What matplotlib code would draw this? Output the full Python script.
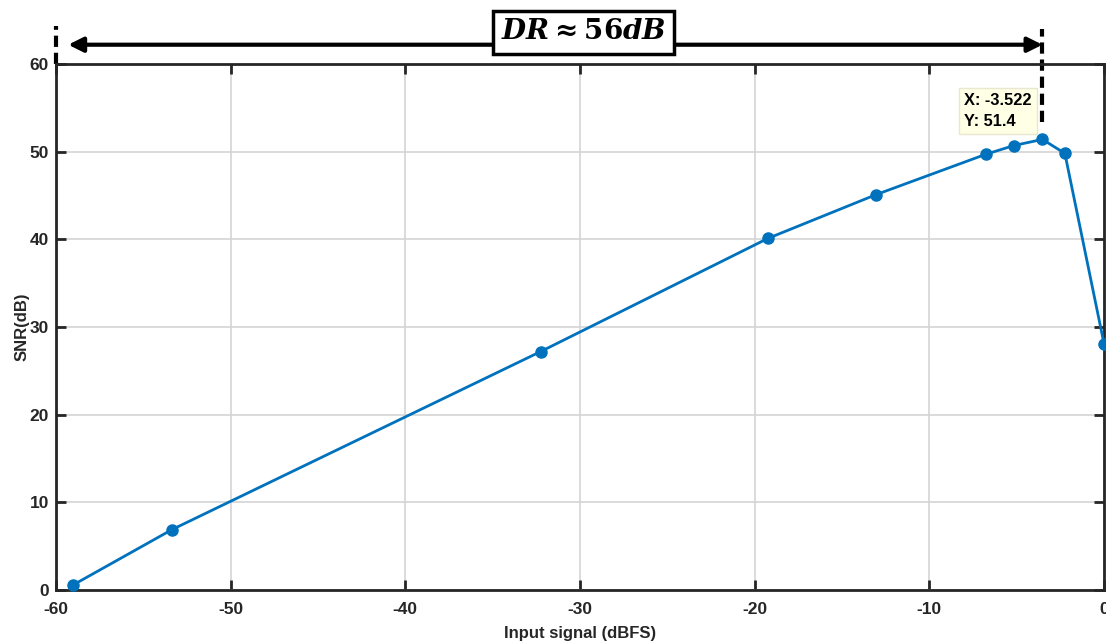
import matplotlib
matplotlib.use("Agg")
import matplotlib.pyplot as plt

# data
input_dbfs = [-59.0, -53.35, -32.25, -19.25, -13.05, -6.77, -5.16, -3.522, -2.24, 0.0]
snr_db = [0.6, 6.9, 27.2, 40.1, 45.1, 49.7, 50.7, 51.4, 49.8, 28.1]
x_ticks = [-60, -50, -40, -30, -20, -10, 0]
y_ticks = [0, 10, 20, 30, 40, 50, 60]
tip_x = -3.522
tip_y = 51.4
dr_left = -59.3

plt.rcParams['font.family'] = ['Liberation Sans', 'DejaVu Sans']
plt.rcParams['axes.unicode_minus'] = False
plt.rcParams['mathtext.fontset'] = 'custom'
plt.rcParams['mathtext.it'] = 'DejaVu Serif:italic:bold'
plt.rcParams['mathtext.rm'] = 'DejaVu Serif:bold'
plt.rcParams['mathtext.bf'] = 'DejaVu Serif:bold'

fig = plt.figure(figsize=(11.06, 6.43), dpi=100)
ax = fig.add_axes([56/1106, 53/643, 1048/1106, 526/643])

blue = '#0072BD'
ax.plot(input_dbfs, snr_db, '-o', color=blue, lw=2, ms=8, clip_on=False, zorder=5)

ax.set_xlim(-60, 0)
ax.set_ylim(0, 60)
ax.set_xticks(x_ticks)
ax.set_yticks(y_ticks)
ax.grid(True, color='#d4d4d4', lw=1.2)
ax.set_axisbelow(True)
for s in ax.spines.values():
    s.set_color('#262626')
    s.set_linewidth(2)
ax.tick_params(direction='in', length=7, width=2, color='#262626',
               top=True, right=True, labelsize=12.5, labelcolor='#262626')
ax.tick_params(axis='x', pad=9)
ax.tick_params(axis='y', pad=5)
for lab in ax.get_xticklabels() + ax.get_yticklabels():
    lab.set_fontweight('bold')
ax.set_xlabel('Input signal (dBFS)', fontsize=12, fontweight='bold', color='#262626', labelpad=6)
ax.set_ylabel('SNR(dB)', fontsize=12, fontweight='bold', color='#262626', labelpad=0)

# dashed marker lines
ax.plot([-60, -60], [60, 64.3], ls=(0, (2.7, 1.4)), color='black', lw=3, clip_on=False)
ax.plot([tip_x, tip_x], [53.4, 64.0], ls=(0, (2.7, 1.4)), color='black', lw=3, clip_on=False)

# double arrow
ax.annotate('', xy=(dr_left, 62.2), xytext=(tip_x, 62.2),
            arrowprops=dict(arrowstyle='<|-|>', color='black', lw=3,
                            mutation_scale=22, shrinkA=0, shrinkB=0),
            annotation_clip=False)

ax.text(-29.8, 63.6, r'$DR \approx 56dB$',
        ha='center', va='center', fontsize=20,
        bbox=dict(boxstyle='square,pad=0.3', fc='white', ec='black', lw=2.5),
        clip_on=False, zorder=10)

# data tip
ax.text(-8.0, 54.6, f'X: {tip_x}\nY: {tip_y}', ha='left', va='center',
        fontsize=11.8, fontweight='bold', color='black', linespacing=1.5,
        bbox=dict(boxstyle='square,pad=0.3', fc='#FFFFE6', ec='#e8e8d0', lw=1),
        zorder=8)

fig.savefig('out.png', dpi=100)
